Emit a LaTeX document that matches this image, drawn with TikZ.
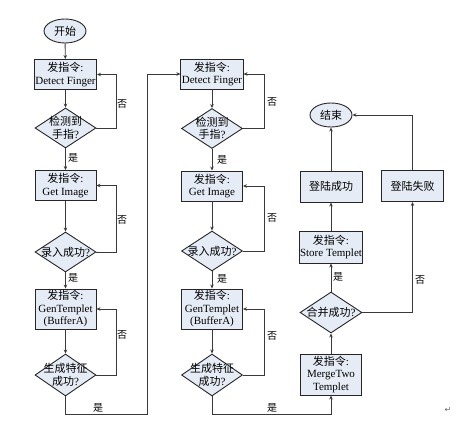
\documentclass[tikz,border=0pt]{standalone}
\usepackage{fontspec}
\setmainfont{Liberation Serif}
\newfontfamily\cjk{Noto Sans CJK SC}
\newfontfamily\symfont{DejaVu Sans}
\usetikzlibrary{shapes.geometric,arrows.meta}
\definecolor{boxfill}{HTML}{E6ECF6}
\definecolor{linec}{HTML}{3A3A3A}
\newcommand{\zh}[1]{{\cjk #1}}
\tikzset{
  base/.style={draw=black!85, fill=boxfill, line width=0.9pt, inner sep=1pt,
    font=\fontsize{11}{12.5}\selectfont, align=center},
  procbox/.style={base, rectangle, minimum width=61pt, minimum height=30pt},
  tallbox/.style={base, rectangle, minimum width=61pt, minimum height=40pt},
  decide/.style={base, diamond, minimum width=61pt, minimum height=40pt, inner sep=0pt},
  term/.style={base, ellipse, minimum width=42pt, minimum height=24pt, inner sep=0pt},
  conn/.style={draw=linec, line width=0.9pt, -{Stealth[length=4pt,width=3.5pt]}},
  lbl/.style={font=\fontsize{10}{12}\selectfont\cjk, inner sep=0pt},
  ctext/.style={font=\fontsize{11}{12.5}\selectfont, align=center, inner sep=0pt}
}
\begin{document}
\begin{tikzpicture}[x=1pt,y=-1pt]
\useasboundingbox (0,0) rectangle (469,425);
% column 1
\node[term] (start) at (65,31) {\zh{开始}};
\node[procbox] (b1) at (65.5,74.5) {\zh{发指令}:\\Detect Finger};
\node[decide] (d1) at (65.5,128) {};
\node[ctext] at (d1.center) {\zh{检测到}\\\zh{手指}?};
\node[procbox] (b2) at (65.5,185.5) {\zh{发指令}:\\Get Image};
\node[decide] (d2) at (65.5,252) {};
\node[ctext] at (d2.center) {\zh{录入成功}?};
\node[tallbox] (b3) at (65.5,309) {\zh{发指令}:\\GenTemplet\\(BufferA)};
\node[decide,minimum height=42pt] (d3) at (65.5,375) {};
\node[ctext] at (d3.center) {\zh{生成特征}\\\zh{成功}?};
% column 2
\node[procbox] (b4) at (212,74) {\zh{发指令}:\\Detect Finger};
\node[decide] (d4) at (212,128.5) {};
\node[ctext] at (d4.center) {\zh{检测到}\\\zh{手指}?};
\node[procbox] (b5) at (212,186) {\zh{发指令}:\\Get Image};
\node[decide] (d5) at (212,251) {};
\node[ctext] at (d5.center) {\zh{录入成功}?};
\node[tallbox] (b6) at (212,309) {\zh{发指令}:\\GenTemplet\\(BufferA)};
\node[decide,minimum height=42pt] (d6) at (212,375) {};
\node[ctext] at (d6.center) {\zh{生成特征}\\\zh{成功}?};
% column 3
\node[term] (end) at (331,115) {\zh{结束}};
\node[procbox,minimum width=62pt,minimum height=31pt] (ok) at (331,186.5) {\zh{登陆成功}};
\node[procbox,minimum width=62pt,minimum height=31pt] (fail) at (412.5,186) {\zh{登陆失败}};
\node[procbox,minimum width=62pt,minimum height=32pt] (st) at (331,247) {\zh{发指令}:\\Store Templet};
\node[decide,minimum width=62pt,minimum height=41pt] (d7) at (331,312.5) {};
\node[ctext] at (d7.center) {\zh{合并成功}?};
\node[tallbox,minimum height=41pt] (mg) at (331,374.5) {\zh{发指令}:\\MergeTwo\\Templet};
% coordinates for bends
\coordinate (c1) at (147,414);
\coordinate (c2) at (331,414);
% connectors column 1
\draw[conn] (start) -- (b1);
\draw[conn] (b1) -- (d1);
\draw[conn] (d1) -- (b2);
\draw[conn] (d1.east) -- ++(20,0) |- (b1.east);
\draw[conn] (b2) -- (d2);
\draw[conn] (d2) -- (b3);
\draw[conn] (d2.east) -- ++(20,0) |- (b2.east);
\draw[conn] (b3) -- (d3);
\draw[conn] (d3.east) -- ++(20,0) |- (b3.east);
\draw[conn] (d3.south) |- (c1) |- (b4.west);
% connectors column 2
\draw[conn] (b4) -- (d4);
\draw[conn] (d4) -- (b5);
\draw[conn] (d4.east) -- ++(21,0) |- (b4.east);
\draw[conn] (b5) -- (d5);
\draw[conn] (d5) -- (b6);
\draw[conn] (d5.east) -- ++(21,0) |- (b5.east);
\draw[conn] (b6) -- (d6);
\draw[conn] (d6.east) -- ++(21,0) |- (b6.east);
\draw[conn] (d6.south) |- (c2) -- (mg.south);
% connectors column 3
\draw[conn] (mg) -- (d7);
\draw[conn] (d7) -- (st);
\draw[conn] (st) -- (ok);
\draw[conn] (ok) -- (end);
\draw[conn] (d7.east) -| (fail.south);
\draw[conn] (fail.north) |- (end.east);
% labels
\node[lbl] at (73,158) {是};
\node[lbl] at (73,278) {是};
\node[lbl] at (98,408) {是};
\node[lbl] at (122,104) {否};
\node[lbl] at (122,220) {否};
\node[lbl] at (122,335) {否};
\node[lbl] at (222,160) {是};
\node[lbl] at (222,279) {是};
\node[lbl] at (272,408) {是};
\node[lbl] at (272,102) {否};
\node[lbl] at (272,218) {否};
\node[lbl] at (272,336) {否};
\node[lbl] at (338,277) {是};
\node[lbl] at (420,280) {否};
\node[font=\fontsize{8}{8}\symfont, text=black!60, inner sep=0pt] (pm) at (448,410) {↵};
\end{tikzpicture}
\end{document}
